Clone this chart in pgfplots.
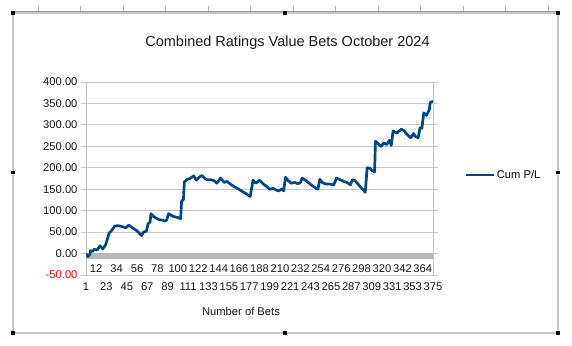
\documentclass[border=0pt]{standalone}
\usepackage{pgfplots}
\pgfplotsset{compat=1.18}
\usepackage{fontspec}
\setmainfont{Liberation Sans}
\definecolor{serblue}{HTML}{004586}
\definecolor{gridc}{HTML}{C8C8C8}
\definecolor{bandc}{HTML}{B8B8B8}
\pgfplotstableread{
i v
1 0
2 -4
3 -7
5 -3
6 7
8 5
10 10
13 8
16 18
19 11
22 20
24 33
26 48
28 52
30 58
32 64
35 65
38 64
41 62
44 60
47 66
50 62
53 57
56 53
59 46
61 42
63 50
66 52
68 70
70 73
71 93
74 86
77 82
80 79
83 78
86 76
88 78
90 93
93 89
96 86
100 84
103 81
104 122
106 126
107 167
110 173
113 175
117 181
120 171
123 178
126 182
129 175
132 172
136 172
139 170
142 164
146 176
150 166
153 168
156 163
160 157
165 151
170 144
174 139
178 133
181 171
184 164
188 171
192 162
196 156
199 150
203 152
206 148
209 146
212 151
214 146
216 178
219 170
222 164
226 166
229 163
232 165
234 176
238 170
241 165
245 158
249 152
251 150
253 173
256 165
260 162
264 162
268 160
271 176
275 172
279 168
283 165
286 160
288 172
291 170
295 160
299 150
302 143
304 200
307 199
309 194
312 190
313 262
316 256
319 250
322 258
325 254
328 264
330 252
332 286
334 283
336 281
338 285
341 290
344 286
347 278
351 270
354 280
356 273
359 270
361 293
363 292
365 328
368 322
371 335
372 352
375 355
}\cumpl
\pgfplotstableread{
i v
1 1.5
375 1.5
}\bandtop
\begin{document}
\begin{tikzpicture}
\useasboundingbox (0pt,0pt) rectangle (572pt,345pt);
% ruler ticks at top
\foreach \t in {38,80.5,123,165.5,208,250.5,293,335.5,378,420.5,463,505.5,548}
  \draw[gray!60, line width=0.6pt] (\t pt,334pt) -- (\t pt,339pt);
% frame
\draw[gray!45, line width=2.6pt] (13pt,12pt) rectangle (558pt,332pt);
\draw[gray!80, line width=0.6pt] (11.5pt,333.5pt) -- (559.5pt,333.5pt);
\foreach \x/\y in {13/332,285/332,558/332,13/172.5,558/172.5,13/12,285/12,558/12}
  \fill[black] (\x pt-1.6pt,\y pt-1.6pt) rectangle (\x pt+1.6pt,\y pt+1.6pt);
\node[font=\fontsize{14.5}{17}\selectfont, text=black!90] at (287.5pt,302pt) {Combined Ratings Value Bets October 2024};
\node[font=\fontsize{11.2}{13}\selectfont, text=black!90] at (241pt,34pt) {Number of Bets};
\begin{axis}[
  at={(86pt,70pt)}, anchor=south west,
  width=347pt, height=193pt, scale only axis,
  xmin=1, xmax=375, ymin=-50, ymax=400,
  separate axis lines,
  x axis line style={draw=none},
  y axis line style={draw=gridc, line width=0.8pt},
  ytick={0,50,...,400},
  extra y ticks={-50},
  extra y tick style={yticklabel style={text=red}},
  ymajorgrids,
  grid style={gridc, line width=0.9pt},
  tick align=outside,
  major tick length=5pt,
  ytick style={gridc, line width=0.8pt},
  xtick style={draw=none},
  yticklabel style={/pgf/number format/fixed, /pgf/number format/fixed zerofill, /pgf/number format/precision=2, /pgf/number format/assume math mode=true},
  xtick={1,23,...,375},
  extra x ticks={12,34,...,364},
  xticklabel style={anchor=center, yshift=-7pt, /pgf/number format/assume math mode=true},
  extra x tick style={xticklabel style={yshift=18pt}},
  ticklabel style={font=\fontsize{11.2}{13}\selectfont, text=black!90},
  legend style={at={(1,0.5)}, anchor=west, xshift=32pt, yshift=3.5pt, draw=none, fill=none,
    font=\fontsize{11.2}{13}\selectfont, inner sep=0pt},
  legend cell align=left,
  legend image code/.code={\draw[#1, line width=1.6pt] (0pt,0pt) -- (28pt,0pt);},
]
\addplot[draw=none, fill=bandc, forget plot] table[x=i, y=v] {\bandtop} |- (axis cs:1,-12) -- cycle;
\addplot[serblue, line width=2.7pt, line join=round] table[x=i, y=v] {\cumpl};
\addlegendentry{Cum P/L}
\end{axis}
\end{tikzpicture}
\end{document}
